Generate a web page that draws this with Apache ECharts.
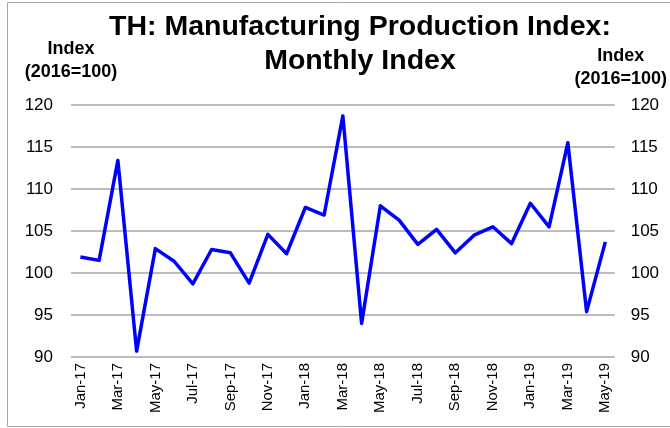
<!DOCTYPE html>
<html>
<head>
<meta charset="utf-8">
<script src="https://cdn.jsdelivr.net/npm/echarts@6/dist/echarts.min.js"></script>
<style>
  html, body { margin: 0; padding: 0; background: #fff; }
  #chart { width: 670px; height: 428px; }
</style>
</head>
<body>
<div id="chart"></div>
<script>
// monthly index, 2016=100
const months = ['Jan-17', 'Feb-17', 'Mar-17', 'Apr-17', 'May-17', 'Jun-17', 'Jul-17', 'Aug-17', 'Sep-17', 'Oct-17', 'Nov-17', 'Dec-17',
  'Jan-18', 'Feb-18', 'Mar-18', 'Apr-18', 'May-18', 'Jun-18', 'Jul-18', 'Aug-18', 'Sep-18', 'Oct-18', 'Nov-18', 'Dec-18',
  'Jan-19', 'Feb-19', 'Mar-19', 'Apr-19', 'May-19'];
const mpi = [101.9, 101.5, 113.4, 90.7, 102.9, 101.4, 98.7, 102.8, 102.4, 98.8, 104.6, 102.3,
  107.8, 106.9, 118.7, 94.0, 108.0, 106.3, 103.4, 105.2, 102.4, 104.5, 105.5, 103.5,
  108.3, 105.5, 115.5, 95.4, 103.7];
const yMin = 90;
const yMax = 120;
const yStep = 5;

const font = '"Liberation Sans", Arial, sans-serif';
const chart = echarts.init(document.getElementById('chart'));

const nameStyle = {
  fontFamily: font,
  fontSize: 18,
  fontWeight: 'bold',
  color: '#000',
  lineHeight: 23,
  align: 'center',
  verticalAlign: 'bottom',
};

chart.setOption({
  animation: false,
  title: {
    text: 'TH: Manufacturing Production Index:\nMonthly Index',
    left: 355,
    top: 5,
    textAlign: 'center',
    textStyle: {
      fontFamily: font,
      fontSize: 28.5,
      fontWeight: 'bold',
      color: '#000',
      lineHeight: 34,
    },
  },
  graphic: [{
    type: 'rect',
    shape: { x: 7.5, y: 2.5, width: 700, height: 424 },
    style: { fill: 'none', stroke: '#a6a6a6', lineWidth: 1 },
    silent: true,
    z: -1,
  }],
  grid: { left: 71, right: 49, top: 105, bottom: 71 },
  xAxis: {
    type: 'category',
    data: months,
    boundaryGap: true,
    axisLine: { show: false },
    axisTick: { show: false },
    axisLabel: {
      interval: 1,
      rotate: 90,
      margin: 6,
      fontFamily: font,
      fontSize: 15,
      color: '#000',
    },
  },
  yAxis: [{
    type: 'value',
    min: yMin,
    max: yMax,
    interval: yStep,
    name: 'Index\n(2016=100)',
    nameLocation: 'end',
    nameGap: 21,
    nameTextStyle: nameStyle,
    axisLine: { show: false },
    axisTick: { show: false },
    axisLabel: { margin: 18, fontFamily: font, fontSize: 17, color: '#000' },
    splitLine: { lineStyle: { color: '#a6a6a6', width: 1.5 } },
  }, {
    type: 'value',
    position: 'right',
    min: yMin,
    max: yMax,
    interval: yStep,
    name: 'Index\n(2016=100)',
    nameLocation: 'end',
    nameGap: 14,
    nameTextStyle: Object.assign({}, nameStyle, { padding: [0, 0, 0, 12] }),
    axisLine: { show: false },
    axisTick: { show: false },
    axisLabel: { margin: 16, fontFamily: font, fontSize: 17, color: '#000' },
    splitLine: { show: false },
  }],
  series: [{
    type: 'line',
    data: mpi,
    yAxisIndex: 0,
    symbol: 'none',
    lineStyle: { color: '#0000ff', width: 3.5, join: 'round' },
  }],
});
</script>
</body>
</html>
